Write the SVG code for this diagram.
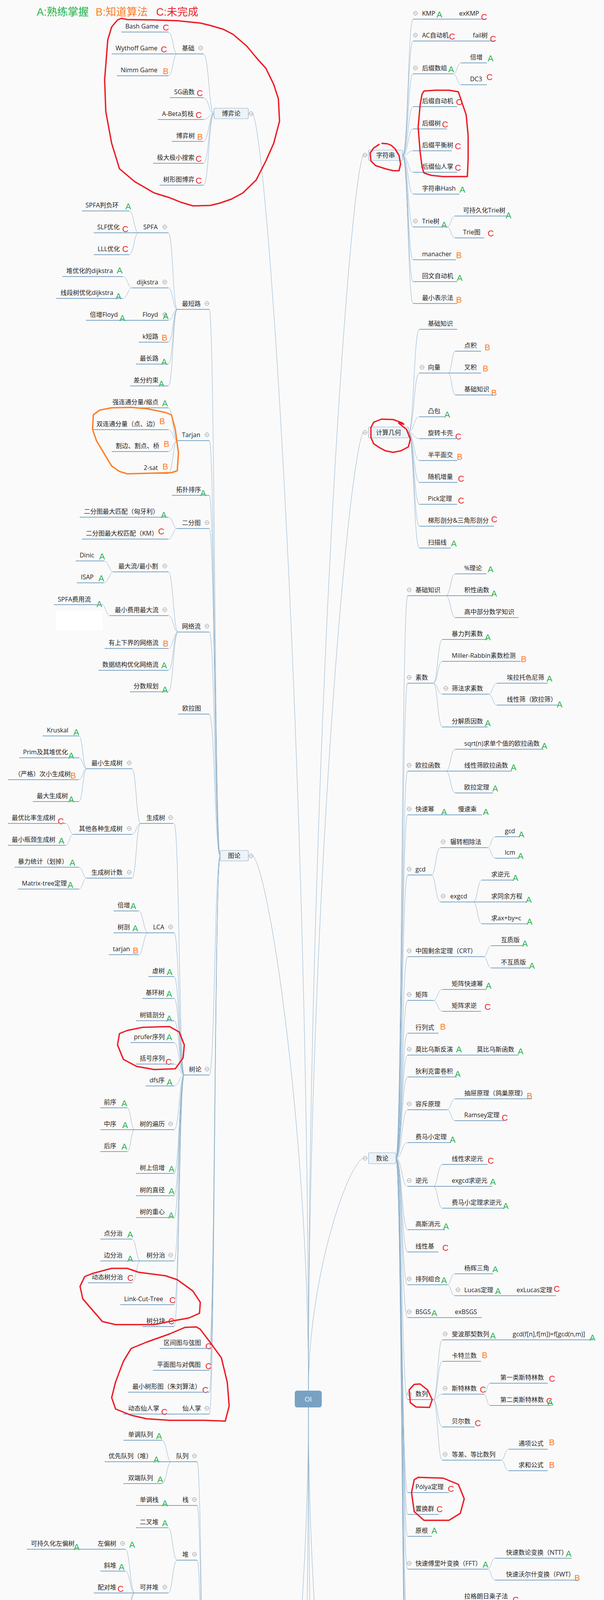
<svg xmlns="http://www.w3.org/2000/svg" width="1547" height="7614" viewBox="0 0 1547 7614">
<style>
text{font-family:"Open Sans","Noto Sans CJK SC",sans-serif}
.t{font-size:16px;fill:#222}
.mid{text-anchor:middle}
.g{font-family:"Liberation Sans","Noto Sans CJK SC",sans-serif;font-size:22px}
.lg{font-family:"Liberation Sans","Noto Sans CJK SC",sans-serif;font-size:27px}
.a{fill:#1fb24a}.b{fill:#ff7e27}.c{fill:#ee1c25}
.u{stroke:#7ca5c6;stroke-width:2;fill:none}
.k{stroke:#8db0cb;stroke-width:1;fill:none}
.bx{fill:#eef3f7;stroke:#8eb0ca;stroke-width:1.2}
.r{fill:none;stroke:#ee1c25;stroke-width:3.5;stroke-linejoin:round}
.o{fill:none;stroke:#ff7e27;stroke-width:3.5;stroke-linejoin:round}
</style>
<defs>
<g id="m"><circle r="5" fill="#fff" stroke="#777" stroke-width="1"/><line x1="-3" y1="0" x2="3" y2="0" stroke="#777" stroke-width="1"/></g>
</defs>
<rect x="0" y="0" width="1547" height="7614" fill="#fafafa"/>
<rect x="143" y="1564" width="120" height="49" fill="#fff"/>
<rect x="306" y="5452" width="128" height="50" fill="#fff"/>
<rect x="306" y="5452" width="108" height="208" fill="#fff"/>
<rect x="230" y="6113" width="221" height="386" fill="#fff"/>

<g id="legend">
<text class="lg a" x="94" y="40">A:熟练掌握</text>
<text class="lg b" x="245" y="40">B:知道算法</text>
<text class="lg c" x="400" y="40">C:未完成</text>
</g>

<g id="connectors">
<path class="k" d="M648 291C691 402 790 1991 790 3560M648 2191C691 2238 790 2903 790 3560M930 397C888 505 790 2042 790 3560M930 1107C888 1190 790 2383 790 3560M930 2965C888 2985 790 3274 790 3560M648 5015C691 4967 790 4281 790 3603M648 6873C691 6762 790 5173 790 3603M930 5061C888 5011 790 4303 790 3603M930 6765C888 6658 790 5121 790 3603"/>
<path class="k" d="M548 291C535 291 535 138 521 138M548 291C535 291 535 250 521 250M548 291C535 291 535 306 521 306M548 291C535 291 535 362 521 362M548 291C535 291 535 418 521 418M548 291C535 291 535 474 521 474"/>
<path class="k" d="M454 138C443 138 443 82 431 82M454 138C443 138 443 194 431 194"/>
<path class="k" d="M1031 398C1045 398 1045 49 1058 49M1031 398C1045 398 1045 105 1058 105M1031 398C1045 398 1045 189 1058 189M1031 398C1045 398 1045 273 1058 273M1031 398C1045 398 1045 330 1058 330M1031 398C1045 398 1045 386 1058 386M1031 398C1045 398 1045 441 1058 441M1031 398C1045 398 1045 497 1058 497M1031 398C1045 398 1045 581 1058 581M1031 398C1045 398 1045 665 1058 665M1031 398C1045 398 1045 721 1058 721M1031 398C1045 398 1045 777 1058 777"/>
<path class="k" d="M1160 189C1171 189 1171 161 1181 161M1160 189C1171 189 1171 217 1181 217M1145 581C1155 581 1155 553 1165 553M1145 581C1155 581 1155 609 1165 609"/>
<path class="k" d="M1046 1107C1060 1107 1060 843 1074 843M1046 1107C1060 1107 1060 955 1074 955M1046 1107C1060 1107 1060 1067 1074 1067M1046 1107C1060 1107 1060 1123 1074 1123M1046 1107C1060 1107 1060 1179 1074 1179M1046 1107C1060 1107 1060 1235 1074 1235M1046 1107C1060 1107 1060 1291 1074 1291M1046 1107C1060 1107 1060 1347 1074 1347M1046 1107C1060 1107 1060 1403 1074 1403M1148 955C1157 955 1157 899 1166 899M1148 955C1157 955 1157 1011 1166 1011"/>
<path class="k" d="M1014 2965C1029 2965 1029 1525 1044 1525M1014 2965C1029 2965 1029 1749 1044 1749M1014 2965C1029 2965 1029 1974 1044 1974M1014 2965C1029 2965 1029 2086 1044 2086M1014 2965C1029 2965 1029 2240 1044 2240M1014 2965C1029 2965 1029 2449 1044 2449M1014 2965C1029 2965 1029 2561 1044 2561M1014 2965C1029 2965 1029 2645 1044 2645M1014 2965C1029 2965 1029 2701 1044 2701M1014 2965C1029 2965 1029 2757 1044 2757M1014 2965C1029 2965 1029 2841 1044 2841M1014 2965C1029 2965 1029 2925 1044 2925M1014 2965C1029 2965 1029 3037 1044 3037M1014 2965C1029 2965 1029 3148 1044 3148M1014 2965C1029 2965 1029 3205 1044 3205M1014 2965C1029 2965 1029 3289 1044 3289M1014 2965C1029 2965 1029 3373 1044 3373M1014 2965C1029 2965 1029 3583 1044 3583M1014 2965C1029 2965 1029 3821 1044 3821M1014 2965C1029 2965 1029 3877 1044 3877M1014 2965C1029 2965 1029 3933 1044 3933M1014 2965C1029 2965 1029 4017 1044 4017M1014 2965C1029 2965 1029 4157 1044 4157M1014 2965C1029 2965 1029 4269 1044 4269M1014 2965C1029 2965 1029 4325 1044 4325M1014 2965C1029 2965 1029 4381 1044 4381M1014 2965C1029 2965 1029 4437 1044 4437"/>
<path class="k" d="M1142 1525C1154 1525 1154 1469 1166 1469M1142 1525C1154 1525 1154 1581 1166 1581M1110 1749C1121 1749 1121 1637 1133 1637M1110 1749C1121 1749 1121 1693 1133 1693M1110 1749C1121 1749 1121 1777 1133 1777M1110 1749C1121 1749 1121 1861 1133 1861M1251 1777C1262 1777 1262 1749 1273 1749M1251 1777C1262 1777 1262 1805 1273 1805M1142 1974C1154 1974 1154 1918 1166 1918M1142 1974C1154 1974 1154 2030 1166 2030M1105 2240C1116 2240 1116 2170 1128 2170M1105 2240C1116 2240 1116 2309 1128 2309M1249 2170C1258 2170 1258 2142 1268 2142M1249 2170C1258 2170 1258 2197 1268 2197M1212 2309C1223 2309 1223 2253 1234 2253M1212 2309C1223 2309 1223 2365 1234 2365M1239 2449C1248 2449 1248 2421 1258 2421M1239 2449C1248 2449 1248 2478 1258 2478M1110 2561C1121 2561 1121 2533 1133 2533M1110 2561C1121 2561 1121 2589 1133 2589M1145 2841C1155 2841 1155 2813 1165 2813M1145 2841C1155 2841 1155 2869 1165 2869M1110 3037C1121 3037 1121 2981 1133 2981M1110 3037C1121 3037 1121 3093 1133 3093M1145 3289C1155 3289 1155 3261 1165 3261M1145 3289C1155 3289 1155 3317 1165 3317"/>
<path class="k" d="M1110 3583C1121 3583 1121 3430 1133 3430M1110 3583C1121 3583 1121 3485 1133 3485M1110 3583C1121 3583 1121 3569 1133 3569M1110 3583C1121 3583 1121 3653 1133 3653M1110 3583C1121 3583 1121 3738 1133 3738M1239 3569C1247 3569 1247 3541 1255 3541M1239 3569C1247 3569 1247 3598 1255 3598M1283 3738C1293 3738 1293 3710 1303 3710M1283 3738C1293 3738 1293 3765 1303 3765M1249 4017C1258 4017 1258 3989 1268 3989M1249 4017C1258 4017 1258 4045 1268 4045M1145 4157C1155 4157 1155 4101 1165 4101M1145 4157C1155 4157 1155 4213 1165 4213"/>
<path class="k" d="M1046 5061C1060 5061 1060 4503 1074 4503M1046 5061C1060 5061 1060 4615 1074 4615M1046 5061C1060 5061 1060 4727 1074 4727M1046 5061C1060 5061 1060 4839 1074 4839M1046 5061C1060 5061 1060 4951 1074 4951M1046 5061C1060 5061 1060 5007 1074 5007M1046 5061C1060 5061 1060 5063 1074 5063M1046 5061C1060 5061 1060 5119 1074 5119M1046 5061C1060 5061 1060 5175 1074 5175M1046 5061C1060 5061 1060 5231 1074 5231M1046 5061C1060 5061 1060 5287 1074 5287M1046 5061C1060 5061 1060 5343 1074 5343M1046 5061C1060 5061 1060 5399 1074 5399M1046 5061C1060 5061 1060 5455 1074 5455M1046 5061C1060 5061 1060 5651 1074 5651"/>
<path class="k" d="M1163 4615C1173 4615 1173 4559 1184 4559M1163 4615C1173 4615 1173 4671 1184 4671M1163 4839C1173 4839 1173 4783 1184 4783M1163 4839C1173 4839 1173 4895 1184 4895M1176 5651C1189 5651 1189 5511 1202 5511M1176 5651C1189 5651 1189 5567 1202 5567M1176 5651C1189 5651 1189 5735 1202 5735M1176 5651C1189 5651 1189 5791 1202 5791M1367 5651C1373 5651 1373 5624 1379 5624M1367 5651C1373 5651 1373 5679 1379 5679"/>
<path class="k" d="M1095 6766C1109 6766 1109 5969 1123 5969M1095 6766C1109 6766 1109 6137 1123 6137M1095 6766C1109 6766 1109 6193 1123 6193M1095 6766C1109 6766 1109 6249 1123 6249M1095 6766C1109 6766 1109 6305 1123 6305M1095 6766C1109 6766 1109 6361 1123 6361M1095 6766C1109 6766 1109 6418 1123 6418M1095 6766C1109 6766 1109 6473 1123 6473M1095 6766C1109 6766 1109 6529 1123 6529M1095 6766C1109 6766 1109 6781 1123 6781M1095 6766C1109 6766 1109 7033 1123 7033M1095 6766C1109 6766 1109 7089 1123 7089M1095 6766C1109 6766 1109 7145 1123 7145M1095 6766C1109 6766 1109 7201 1123 7201M1095 6766C1109 6766 1109 7257 1123 7257M1095 6766C1109 6766 1109 7313 1123 7313M1095 6766C1109 6766 1109 7397 1123 7397M1095 6766C1109 6766 1109 7509 1123 7509M1095 6766C1109 6766 1109 7593 1123 7593"/>
<path class="k" d="M1189 5969C1200 5969 1200 5858 1212 5858M1189 5969C1200 5969 1200 5914 1212 5914M1189 5969C1200 5969 1200 6025 1212 6025M1189 5969C1200 5969 1200 6081 1212 6081M1189 6781C1200 6781 1200 6586 1212 6586M1189 6781C1200 6781 1200 6642 1212 6642M1189 6781C1200 6781 1200 6697 1212 6697M1189 6781C1200 6781 1200 6753 1212 6753M1189 6781C1200 6781 1200 6809 1212 6809M1189 6781C1200 6781 1200 6865 1212 6865M1189 6781C1200 6781 1200 6921 1212 6921M1189 6781C1200 6781 1200 6977 1212 6977M1189 7397C1200 7397 1200 7369 1212 7369M1189 7397C1200 7397 1200 7425 1212 7425M1189 7509C1200 7509 1200 7481 1212 7481M1189 7509C1200 7509 1200 7537 1212 7537"/>
<path class="k" d="M564 2191C550 2191 550 792 536 792M564 2191C550 2191 550 1128 536 1128M564 2191C550 2191 550 1268 536 1268M564 2191C550 2191 550 1353 536 1353M564 2191C550 2191 550 1618 536 1618M564 2191C550 2191 550 1828 536 1828M564 2191C550 2191 550 2752 536 2752M564 2191C550 2191 550 3452 536 3452M564 2191C550 2191 550 3508 536 3508M564 2191C550 2191 550 3564 536 3564M564 2191C550 2191 550 3620 536 3620"/>
<path class="k" d="M454 792C443 792 443 596 431 596M454 792C443 792 443 737 431 737M454 792C443 792 443 820 431 820M454 792C443 792 443 876 431 876M454 792C443 792 443 932 431 932M454 792C443 792 443 988 431 988M355 596C343 596 343 540 331 540M355 596C343 596 343 652 331 652M339 737C327 737 327 708 314 708M339 737C327 737 327 764 314 764M454 1128C443 1128 443 1044 431 1044M454 1128C443 1128 443 1100 431 1100M454 1128C443 1128 443 1156 431 1156M454 1128C443 1128 443 1212 431 1212M454 1353C443 1353 443 1324 431 1324M454 1353C443 1353 443 1380 431 1380M456 1618C444 1618 444 1464 431 1464M456 1618C444 1618 444 1576 431 1576M456 1618C444 1618 444 1660 431 1660M456 1618C444 1618 444 1716 431 1716M456 1618C444 1618 444 1771 431 1771M291 1464C279 1464 279 1436 266 1436M291 1464C279 1464 279 1492 266 1492M281 1576C271 1576 271 1548 261 1548"/>
<path class="k" d="M472 2752C459 2752 459 2108 446 2108M472 2752C459 2752 459 2388 446 2388M472 2752C459 2752 459 2500 446 2500M472 2752C459 2752 459 2556 446 2556M472 2752C459 2752 459 2613 446 2613M472 2752C459 2752 459 2669 446 2669M472 2752C459 2752 459 2724 446 2724M472 2752C459 2752 459 2780 446 2780M472 2752C459 2752 459 2892 446 2892M472 2752C459 2752 459 3004 446 3004M472 2752C459 2752 459 3061 446 3061M472 2752C459 2752 459 3117 446 3117M472 2752C459 2752 459 3228 446 3228M472 2752C459 2752 459 3340 446 3340M472 2752C459 2752 459 3396 446 3396"/>
<path class="k" d="M360 2108C349 2108 349 1968 338 1968M360 2108C349 2108 349 2136 338 2136M360 2108C349 2108 349 2248 338 2248M222 1968C212 1968 212 1884 202 1884M222 1968C212 1968 212 1940 202 1940M222 1968C212 1968 212 1996 202 1996M222 1968C212 1968 212 2052 202 2052M188 2136C178 2136 178 2108 168 2108M188 2136C178 2136 178 2164 168 2164M222 2248C212 2248 212 2220 202 2220M222 2248C212 2248 212 2276 202 2276M380 2388C367 2388 367 2332 355 2332M380 2388C367 2388 367 2444 355 2444M345 2892C335 2892 335 2836 326 2836M345 2892C335 2892 335 2948 326 2948M360 3228C349 3228 349 3172 338 3172M360 3228C349 3228 349 3284 338 3284"/>
<path class="k" d="M533 5015C519 5015 519 3742 505 3742M533 5015C519 5015 519 3854 505 3854M533 5015C519 5015 519 3994 505 3994M533 5015C519 5015 519 4274 505 4274M533 5015C519 5015 519 4357 505 4357M533 5015C519 5015 519 4470 505 4470M533 5015C519 5015 519 4582 505 4582M533 5015C519 5015 519 4638 505 4638M533 5015C519 5015 519 4722 505 4722M533 5015C519 5015 519 5002 505 5002M533 5015C519 5015 519 5450 505 5450M533 5015C519 5015 519 5702 505 5702M533 5015C519 5015 519 5758 505 5758M533 5015C519 5015 519 5814 505 5814M533 5015C519 5015 519 5870 505 5870M533 5015C519 5015 519 5926 505 5926M533 5015C519 5015 519 6038 505 6038M533 5015C519 5015 519 6318 505 6318"/>
<path class="k" d="M439 3742C427 3742 427 3687 415 3687M439 3742C427 3742 427 3798 415 3798M454 3994C442 3994 442 3911 431 3911M454 3994C442 3994 442 4078 431 4078M345 4078C333 4078 333 3966 321 3966M345 4078C333 4078 333 4022 321 4022M345 4078C333 4078 333 4134 321 4134M345 4078C333 4078 333 4190 321 4190M422 4274C413 4274 413 4246 405 4246M422 4274C411 4274 411 4301 400 4301M439 4470C427 4470 427 4414 415 4414M439 4470C427 4470 427 4526 415 4526M405 4722C395 4722 395 4694 385 4694M405 4722C395 4722 395 4750 385 4750"/>
<path class="k" d="M422 5002C411 5002 411 4806 400 4806M422 5002C411 5002 411 4862 400 4862M422 5002C411 5002 411 4918 400 4918M422 5002C411 5002 411 4974 400 4974M422 5002C411 5002 411 5029 400 5029M422 5002C411 5002 411 5114 400 5114M422 5002C411 5002 411 5198 400 5198M168 5114C158 5114 158 5086 148 5086M168 5114C158 5114 158 5142 148 5142M422 5450C411 5450 411 5254 400 5254M422 5450C411 5450 411 5310 400 5310M422 5450C411 5450 411 5366 400 5366M422 5450C411 5450 411 5422 400 5422M422 6038C408 6038 408 5982 395 5982M422 6038C408 6038 408 6094 395 6094"/>
<path class="k" d="M564 6872C550 6872 550 6552 536 6552M564 6872C550 6872 550 6608 536 6608M564 6872C550 6872 550 6664 536 6664M564 6872C550 6872 550 6720 536 6720M564 6872C550 6872 550 6776 536 6776M564 6872C550 6872 550 6832 536 6832M564 6872C550 6872 550 6944 536 6944M564 6872C550 6872 550 7056 536 7056M564 6872C550 6872 550 7112 536 7112M564 6872C550 6872 550 7168 536 7168M564 6872C550 6872 550 7224 536 7224M461 6944C453 6944 453 6888 446 6888M461 6944C453 6944 453 7000 446 7000"/>
</g>

<g id="root"><rect x="755" y="3560" width="69" height="43" rx="6" fill="#79a2c2"/><text x="789.5" y="3588" text-anchor="middle" fill="#fff" font-size="17">OI</text></g>

<g id="boxes">
<g id="b_game"><rect class="bx" x="548" y="277" width="88" height="27" rx="3"/><text class="t mid" x="592" y="296">博弈论</text><use href="#m" x="643" y="291"/></g>
<g id="b_str"><rect class="bx" x="944" y="384" width="87" height="27" rx="3"/><text class="t mid" x="987.5" y="403">字符串</text><use href="#m" x="935" y="397"/></g>
<g id="b_geo"><rect class="bx" x="944" y="1093" width="102" height="28" rx="3"/><text class="t mid" x="995" y="1113">计算几何</text><use href="#m" x="935" y="1107"/></g>
<g id="b_graph"><rect class="bx" x="564" y="2177" width="72" height="27" rx="3"/><text class="t mid" x="600" y="2196">图论</text><use href="#m" x="643" y="2191"/></g>
<g id="b_num"><rect class="bx" x="944" y="2951" width="70" height="28" rx="3"/><text class="t mid" x="979" y="2971">数论</text><use href="#m" x="935" y="2965"/></g>
<g id="b_ds"><rect class="bx" x="533" y="5001" width="103" height="27" rx="3"/><text class="t mid" x="584.5" y="5020">数据结构</text><use href="#m" x="643" y="5015"/></g>
<g id="b_dp"><rect class="bx" x="944" y="5047" width="102" height="29" rx="3"/><text class="t mid" x="995" y="5067">动态规划</text><use href="#m" x="935" y="5061"/></g>
<g id="b_other"><rect class="bx" x="944" y="6752" width="151" height="28" rx="3"/><text class="t mid" x="1019.5" y="6772">其他算法和思想</text><use href="#m" x="935" y="6766"/></g>
<g id="b_search"><rect class="bx" x="564" y="6858" width="72" height="29" rx="3"/><text class="t mid" x="600" y="6878">搜索</text><use href="#m" x="643" y="6873"/></g>
</g>

<g id="nodes-game">
<g id="n1"><text class="t" x="466" y="129">基础</text><path class="u" d="M454 138H521"/><use href="#m" x="514" y="123"/></g>
<g id="n2"><text class="t" x="321" y="73">Bash Game</text><text class="g c" x="417" y="78">C</text><path class="u" d="M311 82H431"/></g>
<g id="n3"><text class="t" x="296" y="129">Wythoff Game</text><text class="g c" x="412" y="134">C</text><path class="u" d="M286 138H454"/></g>
<g id="n4"><text class="t" x="309" y="185">Nimm Game</text><text class="g b" x="417" y="190">B</text><path class="u" d="M299 194H431"/></g>
<g id="n5"><text class="t" x="446" y="241">SG函数</text><text class="g c" x="504" y="246">C</text><path class="u" d="M435 250H521"/></g>
<g id="n6"><text class="t" x="415" y="297">A-Beta剪枝</text><text class="g c" x="501" y="302">C</text><path class="u" d="M404 306H521"/></g>
<g id="n7"><text class="t" x="451" y="353">博弈树</text><text class="g b" x="505" y="358">B</text><path class="u" d="M440 362H521"/></g>
<g id="n8"><text class="t" x="402" y="409">极大极小搜索</text><text class="g c" x="501" y="414">C</text><path class="u" d="M392 418H521"/></g>
<g id="n9"><text class="t" x="418" y="465">树形图博弈</text><text class="g c" x="501" y="470">C</text><path class="u" d="M409 474H521"/></g>
</g>

<g id="nodes-str">
<g id="s1"><use href="#m" x="1064" y="34"/><text class="t" x="1081" y="40">KMP</text><text class="g a" x="1118" y="45">A</text><path class="u" d="M1058 49H1242"/><text class="t" x="1176" y="40">exKMP</text><text class="g c" x="1232" y="51">C</text></g>
<g id="s2"><use href="#m" x="1064" y="90"/><text class="t" x="1081" y="96">AC自动机</text><text class="g c" x="1150" y="101">C</text><path class="u" d="M1058 105H1267"/><text class="t" x="1211" y="96">fail树</text><text class="g c" x="1255" y="107">C</text></g>
<g id="s3"><use href="#m" x="1064" y="174"/><text class="t" x="1081" y="180">后缀数组</text><text class="g a" x="1148" y="185">A</text><path class="u" d="M1058 189H1160"/></g>
<g id="s4"><text class="t" x="1204" y="152">倍增</text><text class="g a" x="1249" y="157">A</text><path class="u" d="M1181 161H1247"/></g>
<g id="s5"><text class="t" x="1204" y="208">DC3</text><text class="g c" x="1246" y="205">C</text><path class="u" d="M1181 217H1247"/></g>
<g id="s6"><text class="t" x="1081" y="264">后缀自动机</text><text class="g c" x="1168" y="269">C</text><path class="u" d="M1058 273H1171"/></g>
<g id="s7"><text class="t" x="1081" y="321">后缀树</text><text class="g c" x="1132" y="326">C</text><path class="u" d="M1058 330H1145"/></g>
<g id="s8"><text class="t" x="1081" y="377">后缀平衡树</text><text class="g c" x="1165" y="382">C</text><path class="u" d="M1058 386H1157"/></g>
<g id="s9"><text class="t" x="1081" y="432">后缀仙人掌</text><text class="g c" x="1165" y="437">C</text><path class="u" d="M1058 441H1171"/></g>
<g id="s10"><text class="t" x="1081" y="488">字符串Hash</text><text class="g a" x="1177" y="493">A</text><path class="u" d="M1058 497H1177"/></g>
<g id="s11"><use href="#m" x="1064" y="566"/><text class="t" x="1081" y="572">Trie树</text><text class="g a" x="1130" y="583">A</text><path class="u" d="M1058 581H1145"/></g>
<g id="s12"><text class="t" x="1186" y="544">可持久化Trie树</text><text class="g a" x="1295" y="559">A</text><path class="u" d="M1165 553H1305"/></g>
<g id="s13"><text class="t" x="1186" y="600">Trie图</text><text class="g c" x="1249" y="605">C</text><path class="u" d="M1165 609H1240"/></g>
<g id="s14"><text class="t" x="1081" y="656">manacher</text><text class="g b" x="1168" y="661">B</text><path class="u" d="M1058 665H1168"/></g>
<g id="s15"><text class="t" x="1081" y="712">回文自动机</text><text class="g a" x="1170" y="719">A</text><path class="u" d="M1058 721H1171"/></g>
<g id="s16"><text class="t" x="1081" y="768">最小表示法</text><text class="g b" x="1168" y="775">B</text><path class="u" d="M1058 777H1171"/></g>
</g>

<g id="nodes-geo">
<g id="c1"><text class="t" x="1096" y="834">基础知识</text><path class="u" d="M1074 843H1171"/></g>
<g id="c2"><use href="#m" x="1081" y="940"/><text class="t" x="1096" y="946">向量</text><path class="u" d="M1074 955H1232"/></g>
<g id="c3"><text class="t" x="1189" y="890">点积</text><text class="g b" x="1241" y="897">B</text><path class="u" d="M1166 899H1232"/></g>
<g id="c4"><text class="t" x="1189" y="946">叉积</text><text class="g b" x="1236" y="951">B</text></g>
<g id="c5"><text class="t" x="1189" y="1002">基础知识</text><text class="g b" x="1258" y="1013">B</text><path class="u" d="M1166 1011H1263"/></g>
<g id="c6"><text class="t" x="1096" y="1058">凸包</text><text class="g a" x="1138" y="1069">A</text><path class="u" d="M1074 1067H1138"/></g>
<g id="c7"><text class="t" x="1096" y="1114">旋转卡壳</text><text class="g c" x="1166" y="1125">C</text><path class="u" d="M1074 1123H1171"/></g>
<g id="c8"><text class="t" x="1096" y="1170">半平面交</text><text class="g b" x="1170" y="1177">B</text><path class="u" d="M1074 1179H1171"/></g>
<g id="c9"><text class="t" x="1096" y="1226">随机增量</text><text class="g c" x="1173" y="1233">C</text><path class="u" d="M1074 1235H1171"/></g>
<g id="c10"><text class="t" x="1096" y="1282">Pick定理</text><text class="g c" x="1173" y="1289">C</text><path class="u" d="M1074 1291H1171"/></g>
<g id="c11"><text class="t" x="1096" y="1338">梯形剖分&amp;三角形剖分</text><text class="g c" x="1258" y="1337">C</text><path class="u" d="M1074 1347H1265"/></g>
<g id="c12"><text class="t" x="1096" y="1394">扫描线</text><text class="g a" x="1155" y="1399">A</text><path class="u" d="M1074 1403H1155"/></g>
</g>

<g id="nodes-num">
<g id="u1"><use href="#m" x="1048" y="1510"/><text class="t" x="1064" y="1516">基础知识</text><path class="u" d="M1044 1525H1142"/></g>
<g id="u2"><text class="t" x="1189" y="1460">%理论</text><text class="g a" x="1249" y="1465">A</text><path class="u" d="M1166 1469H1246"/></g>
<g id="u3"><text class="t" x="1189" y="1516">积性函数</text><text class="g a" x="1258" y="1527">A</text><path class="u" d="M1142 1525H1263"/></g>
<g id="u4"><text class="t" x="1189" y="1572">高中部分数学知识</text><path class="u" d="M1166 1581H1328"/></g>
<g id="u5"><use href="#m" x="1048" y="1734"/><text class="t" x="1064" y="1740">素数</text><path class="u" d="M1044 1749H1110"/></g>
<g id="u6"><text class="t" x="1157" y="1628">暴力判素数</text><text class="g a" x="1242" y="1639">A</text><path class="u" d="M1133 1637H1249"/></g>
<g id="u7"><text class="t" x="1157" y="1684">Miller-Rabbin素数检测</text><text class="g b" x="1334" y="1695">B</text><path class="u" d="M1133 1693H1334"/></g>
<g id="u8"><use href="#m" x="1142" y="1762"/><text class="t" x="1157" y="1768">筛法求素数</text><path class="u" d="M1133 1777H1251"/></g>
<g id="u9"><text class="t" x="1298" y="1740">埃拉托色尼筛</text><text class="g a" x="1400" y="1745">A</text><path class="u" d="M1273 1749H1403"/></g>
<g id="u10"><text class="t" x="1298" y="1796">线性筛（欧拉筛）</text><text class="g a" x="1426" y="1811">A</text><path class="u" d="M1273 1805H1428"/></g>
<g id="u11"><text class="t" x="1157" y="1852">分解质因数</text><text class="g a" x="1242" y="1859">A</text><path class="u" d="M1133 1861H1249"/></g>
<g id="u12"><use href="#m" x="1048" y="1959"/><text class="t" x="1064" y="1965">欧拉函数</text><path class="u" d="M1044 1974H1142"/></g>
<g id="u13"><text class="t" x="1189" y="1909">sqrt(n)求单个值的欧拉函数</text><text class="g a" x="1387" y="1917">A</text><path class="u" d="M1166 1918H1392"/></g>
<g id="u14"><text class="t" x="1189" y="1965">线性筛欧拉函数</text><text class="g a" x="1308" y="1972">A</text><path class="u" d="M1142 1974H1311"/></g>
<g id="u15"><text class="t" x="1189" y="2021">欧拉定理</text><text class="g a" x="1261" y="2026">A</text><path class="u" d="M1166 2030H1263"/></g>
<g id="u16"><use href="#m" x="1048" y="2071"/><text class="t" x="1064" y="2077">快速幂</text><text class="g a" x="1130" y="2086">A</text><path class="u" d="M1044 2086H1234"/><text class="t" x="1173" y="2077">慢速乘</text><text class="g a" x="1237" y="2086">A</text></g>
<g id="u17"><use href="#m" x="1048" y="2225"/><text class="t" x="1064" y="2231">gcd</text><path class="u" d="M1044 2240H1105"/></g>
<g id="u18"><use href="#m" x="1135" y="2155"/><text class="t" x="1153" y="2161">辗转相除法</text><path class="u" d="M1128 2170H1249"/></g>
<g id="u19"><text class="t" x="1293" y="2133">gcd</text><text class="g a" x="1328" y="2144">A</text><path class="u" d="M1268 2142H1328"/></g>
<g id="u20"><text class="t" x="1293" y="2188">lcm</text><text class="g a" x="1326" y="2199">A</text><path class="u" d="M1268 2197H1328"/></g>
<g id="u21"><use href="#m" x="1135" y="2294"/><text class="t" x="1153" y="2300">exgcd</text><path class="u" d="M1128 2309H1212"/></g>
<g id="u22"><text class="t" x="1258" y="2244">求逆元</text><text class="g a" x="1313" y="2255">A</text><path class="u" d="M1234 2253H1316"/></g>
<g id="u23"><text class="t" x="1258" y="2300">求同余方程</text><text class="g a" x="1347" y="2311">A</text><path class="u" d="M1212 2309H1350"/></g>
<g id="u24"><text class="t" x="1258" y="2356">求ax+by=c</text><text class="g a" x="1349" y="2367">A</text><path class="u" d="M1234 2365H1352"/></g>
<g id="u25"><use href="#m" x="1048" y="2434"/><text class="t" x="1064" y="2440">中国剩余定理（CRT）</text><path class="u" d="M1044 2449H1239"/></g>
<g id="u26"><text class="t" x="1283" y="2412">互质版</text><text class="g a" x="1337" y="2423">A</text><path class="u" d="M1258 2421H1342"/></g>
<g id="u27"><text class="t" x="1283" y="2469">不互质版</text><text class="g a" x="1355" y="2480">A</text><path class="u" d="M1258 2478H1357"/></g>
<g id="u28"><use href="#m" x="1048" y="2546"/><text class="t" x="1064" y="2552">矩阵</text><path class="u" d="M1044 2561H1110"/></g>
<g id="u29"><text class="t" x="1157" y="2524">矩阵快速幂</text><text class="g a" x="1244" y="2531">A</text><path class="u" d="M1133 2533H1246"/></g>
<g id="u30"><text class="t" x="1157" y="2580">矩阵求逆</text><text class="g c" x="1241" y="2585">C</text><path class="u" d="M1133 2589H1232"/></g>
<g id="u31"><text class="t" x="1064" y="2636">行列式</text><text class="g b" x="1127" y="2636">B</text><path class="u" d="M1044 2645H1123"/></g>
<g id="u32"><use href="#m" x="1048" y="2686"/><text class="t" x="1064" y="2692">莫比乌斯反演</text><text class="g a" x="1168" y="2694">A</text><path class="u" d="M1044 2701H1328"/><text class="t" x="1221" y="2692">莫比乌斯函数</text><text class="g a" x="1326" y="2699">A</text></g>
<g id="u33"><text class="t" x="1064" y="2748">狄利克雷卷积</text><text class="g a" x="1165" y="2757">A</text><path class="u" d="M1044 2757H1170"/></g>
<g id="u34"><use href="#m" x="1048" y="2826"/><text class="t" x="1064" y="2832">容斥原理</text><path class="u" d="M1044 2841H1145"/></g>
<g id="u35"><text class="t" x="1189" y="2804">抽屉原理（鸽巢原理）</text><text class="g b" x="1349" y="2813">B</text><path class="u" d="M1165 2813H1362"/></g>
<g id="u36"><text class="t" x="1189" y="2860">Ramsey定理</text><text class="g c" x="1285" y="2869">C</text><path class="u" d="M1165 2869H1291"/></g>
<g id="u37"><text class="t" x="1064" y="2916">费马小定理</text><text class="g a" x="1152" y="2925">A</text><path class="u" d="M1044 2925H1155"/></g>
<g id="u38"><use href="#m" x="1048" y="3022"/><text class="t" x="1064" y="3028">逆元</text><path class="u" d="M1044 3037H1110"/></g>
<g id="u39"><text class="t" x="1157" y="2972">线性求逆元</text><text class="g c" x="1249" y="2979">C</text><path class="u" d="M1133 2981H1249"/></g>
<g id="u40"><text class="t" x="1157" y="3028">exgcd求逆元</text><text class="g a" x="1255" y="3033">A</text><path class="u" d="M1110 3037H1261"/></g>
<g id="u41"><text class="t" x="1157" y="3084">费马小定理求逆元</text><text class="g a" x="1288" y="3095">A</text><path class="u" d="M1133 3093H1293"/></g>
<g id="u42"><text class="t" x="1064" y="3139">高斯消元</text><text class="g a" x="1135" y="3147">A</text><path class="u" d="M1044 3148H1140"/></g>
<g id="u43"><text class="t" x="1064" y="3196">线性基</text><text class="g c" x="1133" y="3202">C</text><path class="u" d="M1044 3205H1123"/></g>
<g id="u44"><use href="#m" x="1048" y="3274"/><text class="t" x="1064" y="3280">排列组合</text><text class="g a" x="1130" y="3285">A</text><path class="u" d="M1044 3289H1145"/></g>
<g id="u45"><text class="t" x="1189" y="3252">杨辉三角</text><text class="g a" x="1261" y="3257">A</text><path class="u" d="M1165 3261H1263"/></g>
<g id="u46"><use href="#m" x="1173" y="3302"/><text class="t" x="1189" y="3308">Lucas定理</text><text class="g a" x="1268" y="3313">A</text><path class="u" d="M1165 3317H1424"/><text class="t" x="1323" y="3308">exLucas定理</text><text class="g c" x="1418" y="3307">C</text></g>
<g id="u47"><use href="#m" x="1048" y="3358"/><text class="t" x="1064" y="3364">BSGS</text><text class="g a" x="1105" y="3369">A</text><path class="u" d="M1044 3373H1234"/><text class="t" x="1165" y="3364">exBSGS</text></g>
<g id="u48"><use href="#m" x="1048" y="3568"/><text class="t" x="1064" y="3574">数列</text><path class="u" d="M1044 3583H1110"/></g>
<g id="u49"><use href="#m" x="1140" y="3415"/><text class="t" x="1157" y="3421">斐波那契数列</text><text class="g a" x="1255" y="3427">A</text><path class="u" d="M1133 3430H1520"/><text class="t" x="1313" y="3421">gcd(f[n],f[m])=f[gcd(n,m)]</text><text class="g a" x="1510" y="3432">A</text></g>
<g id="u50"><text class="t" x="1157" y="3476">卡特兰数</text><text class="g b" x="1234" y="3477">B</text><path class="u" d="M1133 3485H1232"/></g>
<g id="u51"><use href="#m" x="1140" y="3554"/><text class="t" x="1157" y="3560">斯特林数</text><text class="g c" x="1229" y="3565">C</text><path class="u" d="M1133 3569H1239"/></g>
<g id="u52"><text class="t" x="1281" y="3532">第一类斯特林数</text><text class="g c" x="1406" y="3537">C</text><path class="u" d="M1255 3541H1403"/></g>
<g id="u53"><text class="t" x="1281" y="3589">第二类斯特林数</text><text class="g c" x="1399" y="3594">C</text><text class="g a" x="1402" y="3598">A</text><path class="u" d="M1255 3598H1413"/></g>
<g id="u54"><text class="t" x="1157" y="3644">贝尔数</text><text class="g c" x="1216" y="3651">C</text><path class="u" d="M1133 3653H1216"/></g>
<g id="u55"><use href="#m" x="1140" y="3723"/><text class="t" x="1157" y="3729">等差、等比数列</text><path class="u" d="M1133 3738H1283"/></g>
<g id="u56"><text class="t" x="1328" y="3701">通项公式</text><text class="g b" x="1406" y="3700">B</text><path class="u" d="M1303 3710H1403"/></g>
<g id="u57"><text class="t" x="1328" y="3756">求和公式</text><text class="g b" x="1406" y="3758">B</text><path class="u" d="M1303 3765H1403"/></g>
<g id="u58"><text class="t" x="1064" y="3812">Pólya定理</text><text class="g c" x="1147" y="3819">C</text><path class="u" d="M1044 3821H1150"/></g>
<g id="u59"><text class="t" x="1064" y="3868">置换群</text><text class="g c" x="1118" y="3871">C</text><path class="u" d="M1044 3877H1123"/></g>
<g id="u60"><text class="t" x="1064" y="3924">原根</text><text class="g a" x="1105" y="3926">A</text><path class="u" d="M1044 3933H1107"/></g>
<g id="u61"><use href="#m" x="1048" y="4002"/><text class="t" x="1064" y="4008">快速傅里叶变换（FFT）</text><text class="g a" x="1236" y="4013">A</text><path class="u" d="M1044 4017H1249"/></g>
<g id="u62"><text class="t" x="1296" y="3980">快速数论变换（NTT）</text><text class="g a" x="1449" y="3985">A</text><path class="u" d="M1268 3989H1464"/></g>
<g id="u63"><text class="t" x="1296" y="4036">快速沃尔什变换（FWT）</text><text class="g b" x="1471" y="4047">B</text><path class="u" d="M1268 4045H1483"/></g>
<g id="u64"><use href="#m" x="1048" y="4142"/><text class="t" x="1064" y="4148">拉格朗日</text><path class="u" d="M1044 4157H1145"/></g>
<g id="u65"><text class="t" x="1189" y="4092">拉格朗日乘子法</text><text class="g c" x="1313" y="4103">C</text><path class="u" d="M1165 4101H1311"/></g>
<g id="u66"><text class="t" x="1189" y="4148">拉格朗日插值</text><text class="g a" x="1295" y="4153">A</text><path class="u" d="M1145 4157H1295"/></g>
<g id="u67"><text class="t" x="1189" y="4204">拉格朗日四平方和定理</text><text class="g c" x="1362" y="4215">C</text><path class="u" d="M1165 4213H1360"/></g>
<g id="u68"><text class="t" x="1064" y="4260">线性规划</text><text class="g c" x="1137" y="4267">C</text><path class="u" d="M1044 4269H1140"/></g>
<g id="u69"><text class="t" x="1064" y="4316">单纯性</text><text class="g c" x="1127" y="4323">C</text><path class="u" d="M1044 4325H1123"/></g>
<g id="u70"><text class="t" x="1064" y="4372">辛普森积分</text><text class="g c" x="1157" y="4379">C</text><path class="u" d="M1044 4381H1155"/></g>
<g id="u71"><text class="t" x="1064" y="4428">概率和期望</text><text class="g a" x="1163" y="4431">A</text><path class="u" d="M1044 4437H1155"/></g>
</g>

<g id="nodes-dp">
<g id="d1"><text class="t" x="1097" y="4494">简单dp</text><text class="g a" x="1184" y="4492">A</text><path class="u" d="M1074 4503H1160"/></g>
<g id="d2"><use href="#m" x="1081" y="4600"/><text class="t" x="1097" y="4606">背包dp</text><path class="u" d="M1074 4615H1163"/></g>
<g id="d3"><text class="t" x="1209" y="4550">01背包</text><text class="g a" x="1275" y="4561">A</text><path class="u" d="M1184 4559H1273"/></g>
<g id="d4"><text class="t" x="1209" y="4606">完全背包</text><text class="g a" x="1278" y="4617">A</text><path class="u" d="M1163 4615H1275"/></g>
<g id="d5"><text class="t" x="1209" y="4662">多重背包</text><text class="g a" x="1285" y="4669">A</text><path class="u" d="M1184 4671H1283"/></g>
<g id="d6"><text class="t" x="1097" y="4718">区间dp</text><text class="g a" x="1160" y="4724">A</text><path class="u" d="M1074 4727H1160"/></g>
<g id="d7"><use href="#m" x="1081" y="4824"/><text class="t" x="1097" y="4830">状压dp</text><path class="u" d="M1074 4839H1163"/></g>
<g id="d8"><use href="#m" x="1192" y="4768"/><text class="t" x="1209" y="4774">普通状压</text><text class="g a" x="1283" y="4781">A</text><path class="u" d="M1184 4783H1426"/><text class="t" x="1332" y="4774">枚举子集dp</text><text class="g a" x="1424" y="4781">A</text></g>
<g id="d9"><text class="t" x="1209" y="4830">斯坦纳树</text><text class="g b" x="1280" y="4837">B</text><path class="u" d="M1163 4839H1283"/></g>
<g id="d10"><text class="t" x="1209" y="4886">插头dp</text><text class="g c" x="1266" y="4891">C</text><path class="u" d="M1184 4895H1271"/></g>
<g id="d11"><text class="t" x="1097" y="4942">数位dp</text><text class="g a" x="1165" y="4945">A</text><path class="u" d="M1074 4951H1160"/></g>
<g id="d12"><use href="#m" x="1081" y="4992"/><text class="t" x="1097" y="4998">树形dp</text><text class="g a" x="1163" y="5009">A</text><path class="u" d="M1074 5007H1293"/><text class="t" x="1209" y="4998">基环树dp</text><text class="g b" x="1288" y="5009">B</text></g>
<g id="d13"><text class="t" x="1097" y="5054">环形dp</text><text class="g b" x="1163" y="5061">B</text><path class="u" d="M1074 5063H1160"/></g>
<g id="d14"><text class="t" x="1097" y="5110">环+外向树上的dp</text><text class="g b" x="1239" y="5114">B</text><path class="u" d="M1074 5119H1234"/></g>
<g id="d15"><text class="t" x="1097" y="5166">期望dp</text><text class="g a" x="1165" y="5170">A</text><path class="u" d="M1074 5175H1153"/></g>
<g id="d16"><text class="t" x="1097" y="5222">记忆化dp</text><text class="g a" x="1176" y="5233">A</text><path class="u" d="M1074 5231H1174"/></g>
<g id="d17"><text class="t" x="1097" y="5278">DAG上的dp</text><text class="g a" x="1202" y="5289">A</text><path class="u" d="M1074 5287H1194"/></g>
<g id="d18"><text class="t" x="1097" y="5334">其他好♂玩的dp</text><text class="g b" x="1226" y="5345">B</text><path class="u" d="M1074 5343H1219"/></g>
<g id="d19"><text class="t" x="1097" y="5390">多维动态规划</text><text class="g b" x="1212" y="5387">B</text><path class="u" d="M1074 5399H1202"/></g>
<g id="d20"><text class="t" x="1097" y="5446">dp套dp</text><text class="g b" x="1165" y="5448">B</text><path class="u" d="M1074 5455H1157"/></g>
<g id="d21"><use href="#m" x="1081" y="5636"/><text class="t" x="1097" y="5642">dp的优化</text><path class="u" d="M1074 5651H1176"/></g>
<g id="d22"><text class="t" x="1226" y="5502">斜率优化</text><text class="g b" x="1305" y="5509">B</text><path class="u" d="M1202 5511H1298"/></g>
<g id="d23"><text class="t" x="1226" y="5558">四边形不等式优化</text><text class="g c" x="1367" y="5565">C</text><path class="u" d="M1202 5567H1362"/></g>
<g id="d24"><use href="#m" x="1209" y="5636"/><text class="t" x="1226" y="5642">数据结构优化dp</text><text class="g a" x="1357" y="5653">A</text><path class="u" d="M1176 5651H1367"/></g>
<g id="d25"><text class="t" x="1402" y="5615">单调队列优化dp</text><text class="g a" x="1520" y="5626">A</text><path class="u" d="M1379 5624H1528"/></g>
<g id="d26"><text class="t" x="1402" y="5670">线段树优化dp</text><text class="g a" x="1510" y="5681">A</text><path class="u" d="M1379 5679H1515"/></g>
<g id="d27"><text class="t" x="1226" y="5726">改变状态优化dp</text><text class="g a" x="1357" y="5727">A</text><path class="u" d="M1202 5735H1350"/></g>
<g id="d28"><text class="t" x="1226" y="5782">寻址优化</text><text class="g a" x="1305" y="5785">A</text><path class="u" d="M1202 5791H1298"/></g>
</g>

<g id="nodes-other">
<g id="o1"><use href="#m" x="1128" y="5954"/><text class="t" x="1145" y="5960">二分</text><path class="u" d="M1123 5969H1189"/></g>
<g id="o2"><text class="t" x="1237" y="5849">三分</text><text class="g a" x="1286" y="5856">A</text><path class="u" d="M1212 5858H1281"/></g>
<g id="o3"><text class="t" x="1237" y="5905">整体二分</text><text class="g a" x="1315" y="5912">A</text><path class="u" d="M1212 5914H1311"/></g>
<g id="o4"><text class="t" x="1237" y="5960">二分答案</text><text class="g a" x="1315" y="5965">A</text><path class="u" d="M1189 5969H1305"/></g>
<g id="o5"><text class="t" x="1237" y="6016">lower_bound</text><text class="g a" x="1350" y="6027">A</text><path class="u" d="M1212 6025H1347"/></g>
<g id="o6"><text class="t" x="1237" y="6072">upper_bound</text><text class="g a" x="1354" y="6083">A</text><path class="u" d="M1212 6081H1350"/></g>
<g id="o7"><text class="t" x="1145" y="6128">倍增</text><text class="g a" x="1192" y="6139">A</text><path class="u" d="M1123 6137H1186"/></g>
<g id="o8"><text class="t" x="1145" y="6184">贪心</text><text class="g b" x="1191" y="6192">B</text><path class="u" d="M1123 6193H1186"/></g>
<g id="o9"><text class="t" x="1145" y="6240">枚举</text><text class="g a" x="1189" y="6247">A</text><path class="u" d="M1123 6249H1186"/></g>
<g id="o10"><text class="t" x="1145" y="6296">暴力</text><text class="g a" x="1191" y="6307">A</text><path class="u" d="M1123 6305H1186"/></g>
<g id="o11"><use href="#m" x="1128" y="6346"/><text class="t" x="1145" y="6352">分治</text><text class="g a" x="1186" y="6359">A</text><path class="u" d="M1123 6361H1308"/><text class="t" x="1237" y="6352">CDQ分治</text><text class="g a" x="1318" y="6363">A</text></g>
<g id="o12"><text class="t" x="1145" y="6409">离散化</text><text class="g a" x="1199" y="6416">A</text><path class="u" d="M1123 6418H1202"/></g>
<g id="o13"><text class="t" x="1145" y="6464">模拟</text><text class="g a" x="1187" y="6464">A</text><path class="u" d="M1123 6473H1186"/></g>
<g id="o14"><text class="t" x="1150" y="6520">meet in the middle</text><text class="g a" x="1308" y="6527">A</text><path class="u" d="M1123 6529H1303"/></g>
<g id="o15"><use href="#m" x="1128" y="6766"/><text class="t" x="1145" y="6772">排序</text><path class="u" d="M1123 6781H1189"/></g>
<g id="o16"><use href="#m" x="1219" y="6571"/><text class="t" x="1237" y="6577">快速排序（sort）</text><text class="g a" x="1370" y="6588">A</text><path class="u" d="M1212 6586H1513"/><text class="t" x="1421" y="6577">重载运算符</text><text class="g a" x="1515" y="6581">A</text></g>
<g id="o17"><use href="#m" x="1219" y="6627"/><text class="t" x="1237" y="6633">归并排序</text><text class="g a" x="1313" y="6640">A</text><path class="u" d="M1212 6642H1500"/><text class="t" x="1362" y="6633">归并排序求逆序对</text><text class="g a" x="1505" y="6641">A</text></g>
<g id="o18"><text class="t" x="1237" y="6688">桶排</text><text class="g a" x="1278" y="6695">A</text><path class="u" d="M1212 6697H1276"/></g>
<g id="o19"><text class="t" x="1237" y="6744">基数排序</text><text class="g a" x="1316" y="6750">A</text><path class="u" d="M1212 6753H1311"/></g>
<g id="o20"><text class="t" x="1237" y="6800">计数排序</text><text class="g a" x="1318" y="6808">A</text><path class="u" d="M1212 6809H1311"/></g>
<g id="o21"><text class="t" x="1237" y="6856">插入排序</text><text class="g a" x="1313" y="6865">A</text><path class="u" d="M1212 6865H1311"/></g>
<g id="o22"><text class="t" x="1237" y="6912">选择排序</text><text class="g a" x="1311" y="6920">A</text><path class="u" d="M1212 6921H1311"/></g>
<g id="o23"><text class="t" x="1237" y="6968">冒泡排序</text><text class="g a" x="1308" y="6979">A</text><path class="u" d="M1212 6977H1301"/></g>
<g id="o24"><text class="t" x="1145" y="7024">分块</text><text class="g a" x="1189" y="7032">A</text><path class="u" d="M1123 7033H1182"/></g>
<g id="o25"><text class="t" x="1145" y="7080">随机化</text><text class="g b" x="1199" y="7088">B</text><path class="u" d="M1123 7089H1202"/></g>
<g id="o26"><use href="#m" x="1128" y="7130"/><text class="t" x="1145" y="7136">前缀和</text><text class="g a" x="1202" y="7143">A</text><path class="u" d="M1123 7145H1342"/><text class="t" x="1253" y="7136">二维前缀和</text><text class="g a" x="1340" y="7143">A</text></g>
<g id="o27"><use href="#m" x="1128" y="7186"/><text class="t" x="1145" y="7192">高精度</text><text class="g b" x="1199" y="7203">B</text><path class="u" d="M1123 7201H1295"/><text class="t" x="1253" y="7192">压位</text><text class="g b" x="1298" y="7197">B</text></g>
<g id="o28"><use href="#m" x="1128" y="7242"/><text class="t" x="1145" y="7248">递推，递归</text><text class="g a" x="1237" y="7251">A</text><path class="u" d="M1123 7257H1392"/><text class="t" x="1283" y="7248">矩阵加速递推</text><text class="g a" x="1389" y="7253">A</text></g>
<g id="o29"><text class="t" x="1145" y="7304">位运算</text><text class="g a" x="1197" y="7310">A</text><path class="u" d="M1123 7313H1202"/></g>
<g id="o30"><use href="#m" x="1128" y="7382"/><text class="t" x="1145" y="7388">莫队</text><text class="g a" x="1181" y="7392">A</text><path class="u" d="M1123 7397H1189"/></g>
<g id="o31"><text class="t" x="1237" y="7360">树上莫队</text><text class="g b" x="1308" y="7368">B</text><path class="u" d="M1212 7369H1311"/></g>
<g id="o32"><text class="t" x="1237" y="7416">带修改的莫队</text><text class="g a" x="1344" y="7424">A</text><path class="u" d="M1212 7425H1342"/></g>
<g id="o33"><use href="#m" x="1128" y="7494"/><text class="t" x="1145" y="7500">打表</text><text class="g a" x="1189" y="7511">A</text><path class="u" d="M1123 7509H1189"/></g>
<g id="o34"><text class="t" x="1237" y="7472">打表找规律</text><text class="g a" x="1328" y="7478">A</text><path class="u" d="M1212 7481H1328"/></g>
<g id="o35"><text class="t" x="1237" y="7528">分段打表</text><text class="g a" x="1313" y="7534">A</text><path class="u" d="M1212 7537H1311"/></g>
<g id="o36"><text class="t" x="1145" y="7584">卡常</text><text class="g a" x="1179" y="7591">A</text><path class="u" d="M1123 7593H1186"/></g>
</g>

<g id="nodes-graph">
<g id="p1"><use href="#m" x="530" y="777"/><text class="t" x="466" y="783">最短路</text><path class="u" d="M454 792H536"/></g>
<g id="p2"><use href="#m" x="422" y="581"/><text class="t" x="367" y="587">SPFA</text><path class="u" d="M355 596H431"/></g>
<g id="p3"><text class="t" x="219" y="531">SPFA判负环</text><text class="g a" x="321" y="536">A</text><path class="u" d="M210 540H331"/></g>
<g id="p4"><text class="t" x="249" y="587">SLF优化</text><text class="g c" x="313" y="594">C</text><path class="u" d="M240 596H355"/></g>
<g id="p5"><text class="t" x="250" y="643">LLL优化</text><text class="g c" x="313" y="645">C</text><path class="u" d="M240 652H331"/></g>
<g id="p6"><use href="#m" x="422" y="722"/><text class="t" x="350" y="728">dijkstra</text><path class="u" d="M339 737H431"/></g>
<g id="p7"><text class="t" x="170" y="699">堆优化的dijkstra</text><text class="g a" x="299" y="700">A</text><path class="u" d="M160 708H314"/></g>
<g id="p8"><text class="t" x="155" y="755">线段树优化dijkstra</text><text class="g a" x="296" y="766">A</text><path class="u" d="M144 764H314"/></g>
<g id="p9"><text class="t" x="365" y="811">Floyd</text><use href="#m" x="422" y="805"/><text class="g a" x="417" y="817">A</text><path class="u" d="M220 820H431"/><text class="t" x="230" y="811">倍增Floyd</text><text class="g a" x="306" y="822">A</text></g>
<g id="p10"><text class="t" x="365" y="867">k短路</text><text class="g b" x="414" y="872">B</text><path class="u" d="M355 876H431"/></g>
<g id="p11"><text class="t" x="358" y="923">最长路</text><text class="g a" x="413" y="934">A</text><path class="u" d="M348 932H431"/></g>
<g id="p12"><text class="t" x="342" y="979">差分约束</text><text class="g a" x="406" y="990">A</text><path class="u" d="M333 988H431"/></g>
<g id="p13"><use href="#m" x="530" y="1113"/><text class="t" x="466" y="1119">Tarjan</text><path class="u" d="M454 1128H536"/></g>
<g id="p14"><text class="t" x="288" y="1035">强连通分量/缩点</text><text class="g a" x="415" y="1040">A</text><path class="u" d="M278 1044H431"/></g>
<g id="p15"><text class="t" x="247" y="1091">双连通分量（点、边）</text><text class="g b" x="408" y="1086">B</text><path class="u" d="M237 1100H431"/></g>
<g id="p16"><text class="t" x="296" y="1147">割边、割点、桥</text><text class="g b" x="419" y="1144">B</text><path class="u" d="M286 1156H431"/></g>
<g id="p17"><text class="t" x="368" y="1203">2-sat</text><text class="g b" x="416" y="1202">B</text><path class="u" d="M355 1212H431"/></g>
<g id="p18"><text class="t" x="451" y="1259">拓扑排序</text><text class="g a" x="513" y="1270">A</text><path class="u" d="M440 1268H536"/></g>
<g id="p19"><use href="#m" x="530" y="1338"/><text class="t" x="466" y="1344">二分图</text><path class="u" d="M454 1353H536"/></g>
<g id="p20"><text class="t" x="215" y="1315">二分图最大匹配（匈牙利）</text><text class="g a" x="412" y="1326">A</text><path class="u" d="M204 1324H431"/></g>
<g id="p21"><text class="t" x="220" y="1371">二分图最大权匹配（KM）</text><text class="g c" x="405" y="1368">C</text><path class="u" d="M210 1380H431"/></g>
<g id="p22"><use href="#m" x="530" y="1603"/><text class="t" x="466" y="1609">网络流</text><path class="u" d="M456 1618H536"/></g>
<g id="p23"><use href="#m" x="422" y="1449"/><text class="t" x="303" y="1455">最大流/最小割</text><path class="u" d="M291 1464H431"/></g>
<g id="p24"><text class="t" x="204" y="1427">Dinic</text><text class="g a" x="254" y="1432">A</text><path class="u" d="M194 1436H266"/></g>
<g id="p25"><text class="t" x="207" y="1483">ISAP</text><text class="g a" x="252" y="1488">A</text><path class="u" d="M197 1492H266"/></g>
<g id="p26"><use href="#m" x="422" y="1561"/><text class="t" x="294" y="1567">最小费用最大流</text><path class="u" d="M281 1576H431"/></g>
<g id="p27"><text class="t" x="148" y="1540">SPFA费用流</text><text class="g a" x="247" y="1554">A</text><path class="u" d="M138 1548H261"/></g>
<g id="p28"><text class="t" x="278" y="1651">有上下界的网络流</text><text class="g b" x="417" y="1655">B</text><path class="u" d="M268 1660H431"/></g>
<g id="p29"><text class="t" x="262" y="1707">数据结构优化网络流</text><text class="g a" x="413" y="1711">A</text><path class="u" d="M252 1716H431"/></g>
<g id="p30"><text class="t" x="342" y="1762">分数规划</text><text class="g a" x="415" y="1773">A</text><path class="u" d="M333 1771H431"/></g>
<g id="p31"><text class="t" x="467" y="1819">欧拉图</text><path class="u" d="M456 1828H536"/></g>
<g id="p32"><use href="#m" x="530" y="2737"/><text class="t" x="484" y="2743">树论</text><path class="u" d="M472 2752H536"/></g>
<g id="p33"><use href="#m" x="437" y="2093"/><text class="t" x="375" y="2099">生成树</text><path class="u" d="M360 2108H444"/></g>
<g id="p34"><use href="#m" x="331" y="1953"/><text class="t" x="234" y="1959">最小生成树</text><path class="u" d="M222 1968H338"/></g>
<g id="p35"><text class="t" x="120" y="1875">Kruskal</text><text class="g a" x="188" y="1882">A</text><path class="u" d="M109 1884H202"/></g>
<g id="p36"><text class="t" x="59" y="1931">Prim及其堆优化</text><text class="g a" x="175" y="1942">A</text><path class="u" d="M49 1940H202"/></g>
<g id="p37"><text class="t" x="37" y="1987">（严格）次小生成树</text><text class="g b" x="180" y="1993">B</text><path class="u" d="M20 1996H202"/></g>
<g id="p38"><text class="t" x="94" y="2043">最大生成树</text><text class="g a" x="175" y="2054">A</text><path class="u" d="M84 2052H202"/></g>
<g id="p39"><use href="#m" x="331" y="2121"/><text class="t" x="202" y="2127">其他各种生成树</text><path class="u" d="M188 2136H338"/></g>
<g id="p40"><text class="t" x="30" y="2099">最优比率生成树</text><text class="g c" x="148" y="2110">C</text><path class="u" d="M20 2108H168"/></g>
<g id="p41"><text class="t" x="30" y="2155">最小瓶颈生成树</text><text class="g a" x="150" y="2160">A</text><path class="u" d="M20 2164H168"/></g>
<g id="p42"><use href="#m" x="331" y="2233"/><text class="t" x="234" y="2239">生成树计数</text><path class="u" d="M222 2248H338"/></g>
<g id="p43"><text class="t" x="46" y="2211">暴力统计（划掉）</text><text class="g a" x="178" y="2216">A</text><path class="u" d="M37 2220H202"/></g>
<g id="p44"><text class="t" x="56" y="2267">Matrix-tree定理</text><text class="g a" x="173" y="2273">A</text><path class="u" d="M46 2276H202"/></g>
<g id="p45"><use href="#m" x="437" y="2373"/><text class="t" x="392" y="2379">LCA</text><path class="u" d="M380 2388H446"/></g>
<g id="p46"><text class="t" x="301" y="2323">倍增</text><text class="g a" x="334" y="2327">A</text><path class="u" d="M291 2332H355"/></g>
<g id="p47"><text class="t" x="301" y="2379">树剖</text><text class="g a" x="339" y="2384">A</text><path class="u" d="M291 2388H380"/></g>
<g id="p48"><text class="t" x="289" y="2435">tarjan</text><text class="g b" x="340" y="2441">B</text><path class="u" d="M279 2444H355"/></g>
<g id="p49"><text class="t" x="390" y="2491">虚树</text><text class="g a" x="427" y="2496">A</text><path class="u" d="M380 2500H446"/></g>
<g id="p50"><text class="t" x="373" y="2547">基环树</text><text class="g a" x="426" y="2552">A</text><path class="u" d="M365 2556H446"/></g>
<g id="p51"><text class="t" x="358" y="2604">树链剖分</text><text class="g a" x="426" y="2615">A</text><path class="u" d="M348 2613H446"/></g>
<g id="p52"><text class="t" x="343" y="2660">prufer序列</text><text class="g a" x="426" y="2663">A</text><path class="u" d="M334 2669H446"/></g>
<g id="p53"><text class="t" x="358" y="2715">括号序列</text><text class="g c" x="424" y="2726">C</text><path class="u" d="M348 2724H446"/></g>
<g id="p54"><text class="t" x="383" y="2771">dfs序</text><text class="g a" x="427" y="2778">A</text><path class="u" d="M373 2780H446"/></g>
<g id="p55"><use href="#m" x="437" y="2877"/><text class="t" x="358" y="2883">树的遍历</text><path class="u" d="M345 2892H446"/></g>
<g id="p56"><text class="t" x="266" y="2827">前序</text><text class="g a" x="311" y="2832">A</text><path class="u" d="M257 2836H326"/></g>
<g id="p57"><text class="t" x="266" y="2883">中序</text><text class="g a" x="313" y="2888">A</text><path class="u" d="M257 2892H345"/></g>
<g id="p58"><text class="t" x="266" y="2939">后序</text><text class="g a" x="311" y="2943">A</text><path class="u" d="M257 2948H326"/></g>
<g id="p59"><text class="t" x="358" y="2995">树上倍增</text><text class="g a" x="432" y="3000">A</text><path class="u" d="M348 3004H446"/></g>
<g id="p60"><text class="t" x="358" y="3052">树的直径</text><text class="g a" x="432" y="3057">A</text><path class="u" d="M348 3061H446"/></g>
<g id="p61"><text class="t" x="358" y="3108">树的重心</text><text class="g a" x="431" y="3119">A</text><path class="u" d="M348 3117H446"/></g>
<g id="p62"><use href="#m" x="437" y="3213"/><text class="t" x="375" y="3219">树分治</text><path class="u" d="M360 3228H446"/></g>
<g id="p63"><text class="t" x="266" y="3163">点分治</text><text class="g a" x="326" y="3168">A</text><path class="u" d="M257 3172H338"/></g>
<g id="p64"><text class="t" x="266" y="3219">边分治</text><text class="g a" x="326" y="3230">A</text><path class="u" d="M257 3228H360"/></g>
<g id="p65"><text class="t" x="235" y="3275">动态树分治</text><text class="g c" x="326" y="3279">C</text><path class="u" d="M225 3284H338"/></g>
<g id="p66"><text class="t" x="318" y="3331">Link-Cut-Tree</text><text class="g c" x="434" y="3336">C</text><path class="u" d="M308 3340H446"/></g>
<g id="p67"><text class="t" x="375" y="3387">树分块</text><text class="g c" x="431" y="3390">C</text><path class="u" d="M365 3396H446"/></g>
<g id="p68"><text class="t" x="419" y="3443">区间图与弦图</text><text class="g c" x="526" y="3454">C</text><path class="u" d="M409 3452H536"/></g>
<g id="p69"><text class="t" x="402" y="3499">平面图与对偶图</text><text class="g c" x="526" y="3505">C</text><path class="u" d="M392 3508H536"/></g>
<g id="p70"><text class="t" x="339" y="3555">最小树形图（朱刘算法）</text><text class="g c" x="518" y="3566">C</text><path class="u" d="M328 3564H536"/></g>
<g id="p71"><use href="#m" x="530" y="3605"/><text class="t" x="467" y="3611">仙人掌</text><path class="u" d="M316 3620H536"/><text class="t" x="328" y="3611">动态仙人掌</text><text class="g c" x="413" y="3622">C</text></g>
</g>

<g id="nodes-ds">
<g id="q1"><use href="#m" x="498" y="3727"/><text class="t" x="451" y="3733">队列</text><path class="u" d="M439 3742H505"/></g>
<g id="q2"><text class="t" x="328" y="3678">单调队列</text><text class="g a" x="400" y="3684">A</text><path class="u" d="M316 3687H415"/></g>
<g id="q3"><text class="t" x="278" y="3733">优先队列（堆）</text><text class="g a" x="393" y="3744">A</text><path class="u" d="M268 3742H439"/></g>
<g id="q4"><text class="t" x="328" y="3789">双端队列</text><text class="g a" x="403" y="3795">A</text><path class="u" d="M316 3798H415"/></g>
<g id="q5"><use href="#m" x="498" y="3839"/><text class="t" x="467" y="3845">栈</text><path class="u" d="M348 3854H505"/><text class="t" x="358" y="3845">单调栈</text><text class="g a" x="415" y="3856">A</text></g>
<g id="q6"><use href="#m" x="498" y="3979"/><text class="t" x="467" y="3985">堆</text><path class="u" d="M454 3994H505"/></g>
<g id="q7"><text class="t" x="358" y="3902">二叉堆</text><text class="g a" x="415" y="3907">A</text><path class="u" d="M348 3911H431"/></g>
<g id="q8"><use href="#m" x="422" y="4063"/><text class="t" x="358" y="4069">可并堆</text><path class="u" d="M345 4078H431"/></g>
<g id="q9"><use href="#m" x="314" y="3951"/><text class="t" x="250" y="3957">左偏树</text><text class="g a" x="331" y="3962">A</text><path class="u" d="M69 3966H321"/><text class="t" x="79" y="3957">可持久化左偏树</text><text class="g a" x="189" y="3968">A</text></g>
<g id="q10"><text class="t" x="266" y="4013">斜堆</text><text class="g a" x="304" y="4019">A</text><path class="u" d="M257 4022H321"/></g>
<g id="q11"><text class="t" x="250" y="4069">配对堆</text><text class="g c" x="301" y="4075">C</text><path class="u" d="M240 4078H345"/></g>
<g id="q12"><text class="t" x="219" y="4125">斐波那契堆</text><text class="g c" x="301" y="4131">C</text><path class="u" d="M209 4134H321"/></g>
<g id="q13"><text class="t" x="250" y="4181">随机堆</text><text class="g a" x="298" y="4183">A</text><path class="u" d="M240 4190H321"/></g>
<g id="q14"><use href="#m" x="498" y="4259"/><text class="t" x="434" y="4265">并查集</text><path class="u" d="M422 4274H505"/></g>
<g id="q15"><text class="t" x="262" y="4237">可持久化并查集</text><text class="g b" x="377" y="4245">B</text><path class="u" d="M252 4246H405"/></g>
<g id="q16"><text class="t" x="294" y="4292">带权并查集</text><text class="g b" x="380" y="4300">B</text><path class="u" d="M284 4301H400"/></g>
<g id="q17"><text class="t" x="431" y="4348">hash表</text><text class="g a" x="491" y="4359">A</text><path class="u" d="M421 4357H505"/></g>
<g id="q18"><use href="#m" x="498" y="4455"/><text class="t" x="451" y="4461">链表</text><text class="g a" x="491" y="4466">A</text><path class="u" d="M439 4470H505"/></g>
<g id="q19"><text class="t" x="328" y="4405">双向链表</text><text class="g a" x="398" y="4411">A</text><path class="u" d="M316 4414H415"/></g>
<g id="q20"><use href="#m" x="405" y="4455"/><text class="t" x="328" y="4461">块状链表</text><text class="g b" x="400" y="4472">B</text><path class="u" d="M128 4470H439"/><text class="t" x="138" y="4461">可持久化块状链表</text><text class="g c" x="276" y="4467">C</text></g>
<g id="q21"><text class="t" x="328" y="4517">十字链表</text><text class="g c" x="400" y="4519">C</text><path class="u" d="M316 4526H415"/></g>
<g id="q22"><text class="t" x="454" y="4573">st表</text><text class="g a" x="492" y="4574">A</text><path class="u" d="M444 4582H505"/></g>
<g id="q23"><text class="t" x="436" y="4629">块状树</text><text class="g c" x="484" y="4635">C</text><path class="u" d="M424 4638H505"/></g>
<g id="q24"><use href="#m" x="498" y="4707"/><text class="t" x="419" y="4713">树状数组</text><text class="g a" x="487" y="4724">A</text><path class="u" d="M405 4722H505"/></g>
<g id="q25"><text class="t" x="262" y="4685">多维树状数组</text><text class="g a" x="365" y="4691">A</text><path class="u" d="M252 4694H385"/></g>
<g id="q26"><text class="t" x="230" y="4741">树状数组求逆序对</text><text class="g a" x="358" y="4752">A</text><path class="u" d="M219 4750H385"/></g>
<g id="q27"><use href="#m" x="498" y="4987"/><text class="t" x="434" y="4993">线段树</text><path class="u" d="M422 5002H505"/></g>
<g id="q28"><text class="t" x="262" y="4797">动态开点线段树</text><text class="g a" x="380" y="4808">A</text><path class="u" d="M252 4806H400"/></g>
<g id="q29"><text class="t" x="278" y="4853">线段树的合并</text><text class="g a" x="385" y="4864">A</text><path class="u" d="M268 4862H400"/></g>
<g id="q30"><text class="t" x="294" y="4909">权值线段树</text><text class="g a" x="383" y="4920">A</text><path class="u" d="M284 4918H400"/></g>
<g id="q31"><text class="t" x="296" y="4965">zkw线段树</text><text class="g b" x="383" y="4976">B</text><path class="u" d="M286 4974H400"/></g>
<g id="q32"><text class="t" x="150" y="5020">二维线段树（线段树套线段树）</text><text class="g b" x="376" y="5024">B</text><path class="u" d="M140 5029H400"/></g>
<g id="q33"><use href="#m" x="390" y="5099"/><text class="t" x="183" y="5105">可持久化线段树（主席树）</text><text class="g a" x="377" y="5110">A</text><path class="u" d="M168 5114H400"/></g>
<g id="q34"><text class="t" x="49" y="5077">静态第k大</text><text class="g a" x="128" y="5088">A</text><path class="u" d="M39 5086H148"/></g>
<g id="q35"><text class="t" x="49" y="5133">动态第k大</text><text class="g a" x="131" y="5144">A</text><path class="u" d="M39 5142H148"/></g>
<g id="q36"><text class="t" x="326" y="5189">扫描线</text><text class="g a" x="380" y="5195">A</text><path class="u" d="M316 5198H400"/></g>
<g id="q37"><use href="#m" x="498" y="5435"/><text class="t" x="434" y="5441">平衡树</text><path class="u" d="M422 5450H505"/></g>
<g id="q38"><text class="t" x="336" y="5245">treap</text><text class="g a" x="383" y="5256">A</text><path class="u" d="M324 5254H400"/></g>
<g id="q39"><use href="#m" x="390" y="5295"/><text class="t" x="197" y="5301">fhq-treap（无旋treap）</text><text class="g a" x="378" y="5312">A</text><path class="u" d="M22 5310H400"/><text class="t" x="32" y="5301">可持久化treap</text><text class="g a" x="148" y="5312">A</text></g>
<g id="q40"><use href="#m" x="390" y="5351"/><text class="t" x="336" y="5357">splay</text><text class="g c" x="378" y="5361">C</text><path class="u" d="M163 5366H400"/><text class="t" x="173" y="5357">可持久化splay</text><text class="g c" x="281" y="5366">C</text></g>
<g id="q41"><text class="t" x="309" y="5413">替罪羊树</text><text class="g b" x="380" y="5424">B</text><path class="u" d="M299 5422H400"/></g>
<g id="q42"><use href="#m" x="498" y="5687"/><text class="t" x="439" y="5693">Trie树</text><text class="g a" x="484" y="5696">A</text><path class="u" d="M259 5702H505"/><text class="t" x="268" y="5693">可持久化Trie树</text><text class="g a" x="380" y="5700">A</text></g>
<g id="q43"><text class="t" x="429" y="5749">KDtree</text><text class="g b" x="484" y="5760">B</text><path class="u" d="M419 5758H505"/></g>
<g id="q44"><text class="t" x="434" y="5805">划分树</text><text class="g c" x="484" y="5810">C</text><path class="u" d="M424 5814H505"/></g>
<g id="q45"><text class="t" x="434" y="5861">四分树</text><text class="g c" x="484" y="5866">C</text><path class="u" d="M424 5870H505"/></g>
<g id="q46"><text class="t" x="419" y="5917">笛卡尔树</text><text class="g b" x="482" y="5928">B</text><path class="u" d="M410 5926H505"/></g>
<g id="q47"><use href="#m" x="498" y="6023"/><text class="t" x="434" y="6029">树套树</text><path class="u" d="M422 6038H505"/></g>
<g id="q48"><text class="t" x="262" y="5973">线段树套平衡树</text><text class="g b" x="388" y="5978">B</text><path class="u" d="M252 5982H395"/></g>
<g id="q49"><text class="t" x="262" y="6029">平衡树套线段树</text><text class="g c" x="385" y="6034">C</text><path class="u" d="M252 6038H422"/></g>
<g id="q50"><text class="t" x="294" y="6085">其他树套树</text><text class="g c" x="392" y="6096">C</text><path class="u" d="M284 6094H395"/></g>
<g id="q51"><use href="#m" x="498" y="6303"/><text class="t" x="456" y="6309">STL</text><text class="g a" x="493" y="6318">A</text><path class="u" d="M451 6318H505"/></g>
</g>

<g id="nodes-search">
<g id="h1"><use href="#m" x="530" y="6537"/><text class="t" x="493" y="6543">bfs</text><text class="g a" x="543" y="6554">A</text><path class="u" d="M365 6552H536"/><text class="t" x="375" y="6543">双向bfs</text><text class="g a" x="439" y="6549">A</text></g>
<g id="h2"><text class="t" x="493" y="6599">dfs</text><text class="g a" x="526" y="6605">A</text><path class="u" d="M482 6608H536"/></g>
<g id="h3"><text class="t" x="496" y="6655">A*</text><text class="g b" x="518" y="6666">B</text><path class="u" d="M487 6664H536"/></g>
<g id="h4"><text class="t" x="481" y="6711">IDA*</text><text class="g b" x="520" y="6722">B</text><path class="u" d="M470 6720H536"/></g>
<g id="h5"><text class="t" x="484" y="6767">DLX</text><text class="g c" x="520" y="6773">C</text><path class="u" d="M474 6776H536"/></g>
<g id="h6"><text class="t" x="434" y="6823">记忆化搜索</text><text class="g a" x="516" y="6831">A</text><path class="u" d="M424 6832H536"/></g>
<g id="h7"><use href="#m" x="530" y="6929"/><text class="t" x="484" y="6935">剪枝</text><text class="g b" x="518" y="6931">B</text><path class="u" d="M461 6944H536"/></g>
<g id="h8"><text class="t" x="343" y="6879">可行性剪枝</text><text class="g b" x="426" y="6882">B</text><path class="u" d="M333 6888H446"/></g>
<g id="h9"><text class="t" x="343" y="6935">最优性剪枝</text><text class="g a" x="424" y="6946">A</text><path class="u" d="M333 6944H461"/></g>
<g id="h10"><text class="t" x="358" y="6991">玄学剪枝</text><text class="g b" x="430" y="7000">B</text><path class="u" d="M348 7000H446"/></g>
<g id="h11"><text class="t" x="451" y="7047">模拟退火</text><text class="g b" x="518" y="7058">B</text><path class="u" d="M440 7056H536"/></g>
<g id="h12"><text class="t" x="451" y="7103">遗传算法</text><text class="g c" x="516" y="7114">C</text><path class="u" d="M440 7112H536"/></g>
<g id="h13"><text class="t" x="451" y="7159">爬山算法</text><text class="g b" x="518" y="7157">B</text><path class="u" d="M440 7168H536"/></g>
<g id="h14"><text class="t" x="434" y="7215">随机化搜索</text><text class="g a" x="516" y="7226">A</text><path class="u" d="M424 7224H536"/></g>
</g>

<g id="annotations">
<path class="r" d="M311 47L326 50L395 51L454 53L513 59L538 65L572 75L597 88L632 118L656 147L681 175L701 216L713 253L716 310L701 367L681 412L656 461L622 494L592 510L563 520L538 526L494 527L464 518L434 506L395 494L345 465L306 432L286 367L271 286L268 204L276 102L286 69L301 51Z"/>
<path class="r" d="M977 367L992 368L1002 372L1012 381L1022 398L1026 420L1022 437L1007 437L987 432L962 424L950 412L948 392L957 379L972 369"/>
<path class="r" d="M1086 233L1115 231L1150 231L1174 235L1184 265L1194 294L1199 347L1199 408L1197 452L1135 452L1105 449L1086 443L1081 428L1076 388L1071 326L1076 269L1081 241Z"/>
<path class="r" d="M977 1073L1007 1074L1031 1083L1034 1086L1021 1083L1041 1099L1051 1124L1046 1144L1027 1154L1007 1158L987 1154L972 1146L957 1136L950 1120L950 1095L957 1081Z"/>
<path class="o" d="M286 1044L336 1043L375 1046L424 1056L439 1062L449 1099L457 1160L454 1205L439 1210L326 1213L306 1207L286 1193L266 1160L247 1128L237 1099L239 1062L255 1050Z"/>
<path class="r" d="M326 2638L365 2630L434 2628L459 2642L472 2675L469 2708L449 2736L395 2738L350 2730L316 2712L301 2675L306 2646Z"/>
<path class="r" d="M237 3260L286 3247L326 3247L355 3257L424 3266L454 3276L494 3305L513 3334L511 3362L484 3374L434 3383L395 3391L296 3391L262 3383L237 3354L212 3325L205 3293L217 3268Z"/>
<path class="r" d="M503 3397L474 3398L434 3415L375 3436L336 3452L316 3485L296 3538L286 3578L296 3607L336 3623L375 3632L434 3636L523 3636L577 3638L587 3599L582 3538L567 3476L538 3436L513 3403Z"/>
<path class="r" d="M1061 3544L1076 3543L1095 3558L1107 3583L1100 3603L1066 3602L1051 3591L1048 3558Z"/>
<path class="r" d="M1071 3782L1135 3784L1174 3800L1189 3837L1179 3874L1150 3892L1086 3892L1061 3870L1054 3821L1061 3788Z"/>
<path class="r" d="M1031 4113L1066 4110L1110 4113L1130 4127L1145 4164L1165 4221L1179 4290L1199 4351L1212 4417L1212 4434L1199 4459L1174 4479L1086 4477L1051 4471L1034 4447L1026 4410L1021 4392L1017 4270L1017 4188L1021 4139Z"/>
<path class="o" d="M898 5052L915 5025L957 5010L987 5008L1026 5011L1044 5047L1048 5073L1041 5093L1026 5101L1002 5113L947 5115L908 5103L896 5081Z"/>
<path class="o" d="M424 5731L454 5721L508 5715L518 5721L538 5752L543 5792L548 5854L543 5899L523 5923L474 5939L424 5941L405 5915L403 5854L395 5813L405 5752Z"/>
<path class="o" d="M503 6622L553 6622L582 6655L602 6692L641 6729L676 6769L688 6831L681 6892L676 6940L671 6982L651 7048L622 7104L592 7157L533 7183L454 7183L385 7163L345 7139L316 7100L291 7039L281 6965L278 6930L281 6831L296 6769L326 6708L395 6667L454 6647Z"/>
<path class="o" d="M582 6828L632 6830L656 6855L659 6896L637 6910L592 6913L558 6904L548 6879L562 6839Z"/>
</g>
</svg>
